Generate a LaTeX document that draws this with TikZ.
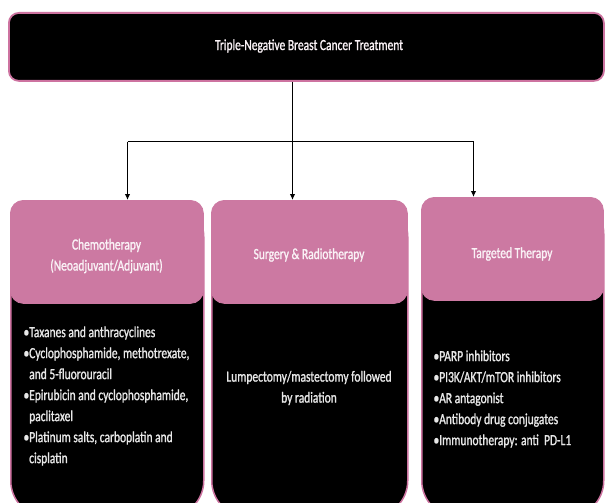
\documentclass[tikz,border=0pt]{standalone}
\usepackage{fontspec}
\setmainfont{Carlito}[FakeStretch=0.74,FakeBold=1.2]
\usetikzlibrary{arrows.meta}
\definecolor{tnpink}{RGB}{204,121,162}
\definecolor{tnedge}{RGB}{205,115,160}
\definecolor{tnbody}{RGB}{232,232,232}
\definecolor{tnhead}{RGB}{250,242,246}
\begin{document}
\begin{tikzpicture}[x=1pt,y=-1pt,
  txt/.style={font=\fontsize{15.5}{21}\selectfont},
  topbox/.style={draw=tnedge,line width=1.8pt,fill=black,rounded corners=10pt,
    anchor=north west,inner sep=0pt,text=tnhead,txt},
  bodybox/.style={draw=tnedge,line width=1.5pt,fill=black,rounded corners=36pt,
    anchor=north west,inner sep=0pt},
  headbox/.style={draw=tnpink,line width=0.8pt,fill=tnpink,rounded corners=13pt,
    anchor=north west,inner sep=0pt},
  headtext/.style={txt,text=tnhead,align=center},
  bodytext/.style={txt,text=tnbody},
  conn/.style={line width=1.9pt,black},
  arr/.style={conn,-{Latex[length=6pt,width=5.5pt]}}
]
\useasboundingbox (0,0) rectangle (605,503);
\clip (0,0) rectangle (605,503);

% top box
\node[topbox,minimum width=595pt,minimum height=68pt] (top) at (8,12) {};
\node[headtext] (toptext) at (309,46) {Triple-Negative Breast Cancer Treatment};

% body boxes
\node[bodybox,minimum width=193pt,minimum height=316pt] (bchemo) at (10,200) {};
\node[bodybox,minimum width=196pt,minimum height=316pt] (bsurg) at (211,200) {};
\node[bodybox,minimum width=182pt,minimum height=319pt] (btarg) at (421,197) {};

% headers
\node[headbox,minimum width=193pt,minimum height=103pt] (hchemo) at (10,200) {};
\node[headbox,minimum width=196pt,minimum height=103pt] (hsurg) at (211,200) {};
\node[headbox,minimum width=182pt,minimum height=103pt] (htarg) at (421,197) {};

\node[headtext] (tchemo) at (106.5,256) {Chemotherapy\\(Neoadjuvant/Adjuvant)};
\node[headtext] (tsurg) at (309,255) {Surgery \& Radiotherapy};
\node[headtext] (ttarg) at (512,254) {Targeted Therapy};

% body texts
\node[bodytext,align=left,anchor=west] (lchemo) at (20,396) {%
•Taxanes and anthracyclines\\
•Cyclophosphamide, methotrexate,\\
\phantom{•}and 5-fluorouracil\\
•Epirubicin and cyclophosphamide,\\
\phantom{•}paclitaxel\\
•Platinum salts, carboplatin and\\
\phantom{•}cisplatin};
\node[bodytext,align=center] (lsurg) at (309,388) {Lumpectomy/mastectomy followed\\by radiation};
\node[bodytext,align=left,anchor=west] (ltarg) at (430,399) {%
•PARP inhibitors\\
•PI3K/AKT/mTOR inhibitors\\
•AR antagonist\\
•Antibody drug conjugates\\
•Immunotherapy: anti\ \ PD-L1};

% connectors
\coordinate (j) at (292.5,141.5);
\coordinate (jl) at (127.5,141.5);
\coordinate (jr) at (473.5,141.5);
\draw[conn] (top.south -| j) -- (j);
\draw[conn] (jl) -- (jr);
\draw[arr] (jl) -- (hchemo.north -| jl);
\draw[arr] (j) -- (hsurg.north -| j);
\draw[arr] (jr) -- (htarg.north -| jr);
\end{tikzpicture}
\end{document}
